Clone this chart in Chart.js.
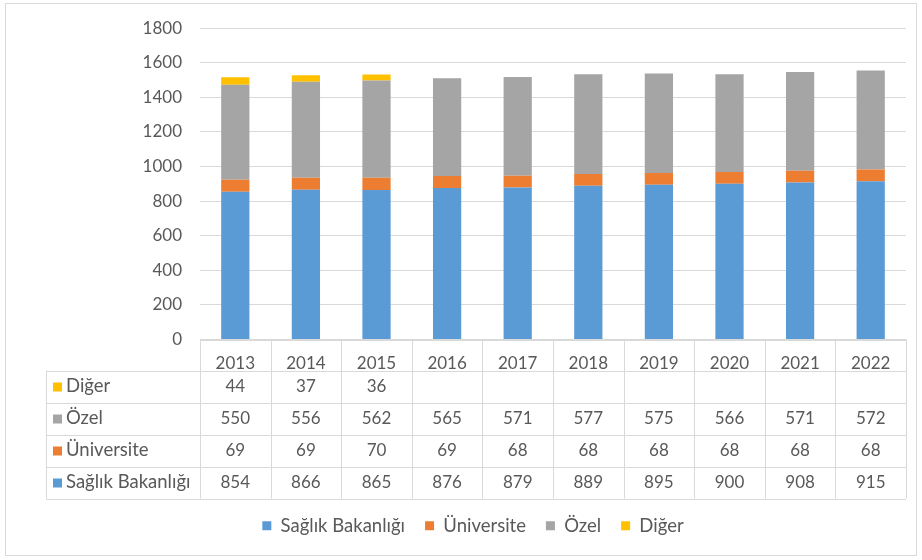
<!DOCTYPE html>
<html>
<head>
<meta charset="utf-8">
<script src="https://cdn.jsdelivr.net/npm/chart.js@4/dist/chart.umd.min.js"></script>
<style>
  html, body { margin: 0; padding: 0; background: #fff; }
  #wrap { position: relative; width: 922px; height: 560px; }
</style>
</head>
<body>
<div id="wrap"><canvas id="barChart" width="922" height="560"></canvas></div>
<script>
const years = ['2013', '2014', '2015', '2016', '2017', '2018', '2019', '2020', '2021', '2022'];
const saglik = [854, 866, 865, 876, 879, 889, 895, 900, 908, 915];
const universite = [69, 69, 70, 69, 68, 68, 68, 68, 68, 68];
const ozel = [550, 556, 562, 565, 571, 577, 575, 566, 571, 572];
const diger = [44, 37, 36, null, null, null, null, null, null, null];
const yTicks = [0, 200, 400, 600, 800, 1000, 1200, 1400, 1600, 1800];

const FONT = 'Lato, "Noto Sans", sans-serif';
const TEXT = '#595959';
const LINE = '#d9d9d9';

// data table drawn under the plot, Excel style
const tablePlugin = {
  id: 'dataTable',
  afterDraw(chart) {
    const ctx = chart.ctx;
    const x = chart.scales.x;
    const left = x.left, right = x.right;
    const colW = (right - left) / years.length;
    const top = x.top;
    const headH = 31, rowH = 32;
    const labelLeft = 46;
    const rows = [
      { label: 'Diğer', color: '#ffc000', data: diger },
      { label: 'Özel', color: '#a5a5a5', data: ozel },
      { label: 'Üniversite', color: '#ed7d31', data: universite },
      { label: 'Sağlık Bakanlığı', color: '#5b9bd5', data: saglik }
    ];
    const bottom = top + headH + rowH * rows.length;

    ctx.save();
    ctx.strokeStyle = LINE;
    ctx.lineWidth = 1;
    ctx.beginPath();
    ctx.moveTo(left, Math.round(top) + 0.5);
    ctx.lineTo(right, Math.round(top) + 0.5);
    for (let r = 0; r <= rows.length; r++) {
      const yy = Math.round(top + headH + r * rowH) + 0.5;
      ctx.moveTo(labelLeft, yy);
      ctx.lineTo(right, yy);
    }
    for (let c = 0; c <= years.length; c++) {
      const xx = Math.round(left + c * colW) + 0.5;
      ctx.moveTo(xx, top);
      ctx.lineTo(xx, bottom);
    }
    ctx.moveTo(labelLeft + 0.5, top + headH);
    ctx.lineTo(labelLeft + 0.5, bottom);
    ctx.stroke();

    ctx.textBaseline = 'middle';
    rows.forEach((row, r) => {
      const cy = top + headH + r * rowH + rowH / 2;
      ctx.fillStyle = row.color;
      ctx.fillRect(labelLeft + 7, cy - 4, 9, 9);
      ctx.fillStyle = TEXT;
      ctx.textAlign = 'left';
      ctx.font = '18.5px ' + FONT;
      ctx.fillText(row.label, labelLeft + 20, cy);
      ctx.textAlign = 'center';
      ctx.font = '17px ' + FONT;
      row.data.forEach((v, i) => {
        if (v !== null) ctx.fillText(String(v), x.getPixelForValue(i), cy);
      });
    });

    // outer chart border
    ctx.strokeStyle = LINE;
    ctx.strokeRect(5.5, 3.5, 911, 552);
    ctx.restore();
  }
};

const barCtx = document.getElementById('barChart').getContext('2d');
const barChart = new Chart(barCtx, {
  type: 'bar',
  data: {
    labels: years,
    datasets: [
      { label: 'Sağlık Bakanlığı', data: saglik, backgroundColor: '#5b9bd5' },
      { label: 'Üniversite', data: universite, backgroundColor: '#ed7d31' },
      { label: 'Özel', data: ozel, backgroundColor: '#a5a5a5' },
      { label: 'Diğer', data: diger, backgroundColor: '#ffc000' }
    ]
  },
  options: {
    responsive: false,
    animation: false,
    layout: { padding: { top: 20, right: 16, bottom: 15, left: 40 } },
    datasets: { bar: { categoryPercentage: 1, barPercentage: 0.4 } },
    plugins: {
      tooltip: { enabled: false },
      legend: {
        position: 'bottom',
        labels: {
          color: TEXT,
          font: { family: FONT, size: 18.5 },
          boxWidth: 9,
          boxHeight: 9,
          padding: 20
        }
      }
    },
    scales: {
      x: {
        stacked: true,
        grid: { display: false },
        border: { display: false },
        ticks: { color: TEXT, font: { family: FONT, size: 17 }, padding: 6, maxRotation: 0 },
        afterFit(scale) { scale.height = 157; }
      },
      y: {
        stacked: true,
        min: 0,
        max: 1800,
        afterBuildTicks(scale) { scale.ticks = yTicks.map(v => ({ value: v })); },
        afterFit(scale) { scale.width = 160; },
        grid: { color: LINE, drawTicks: false },
        border: { display: false },
        ticks: { color: TEXT, font: { family: FONT, size: 17 }, padding: 18, callback: v => String(v) }
      }
    }
  },
  plugins: [tablePlugin]
});
</script>
</body>
</html>
